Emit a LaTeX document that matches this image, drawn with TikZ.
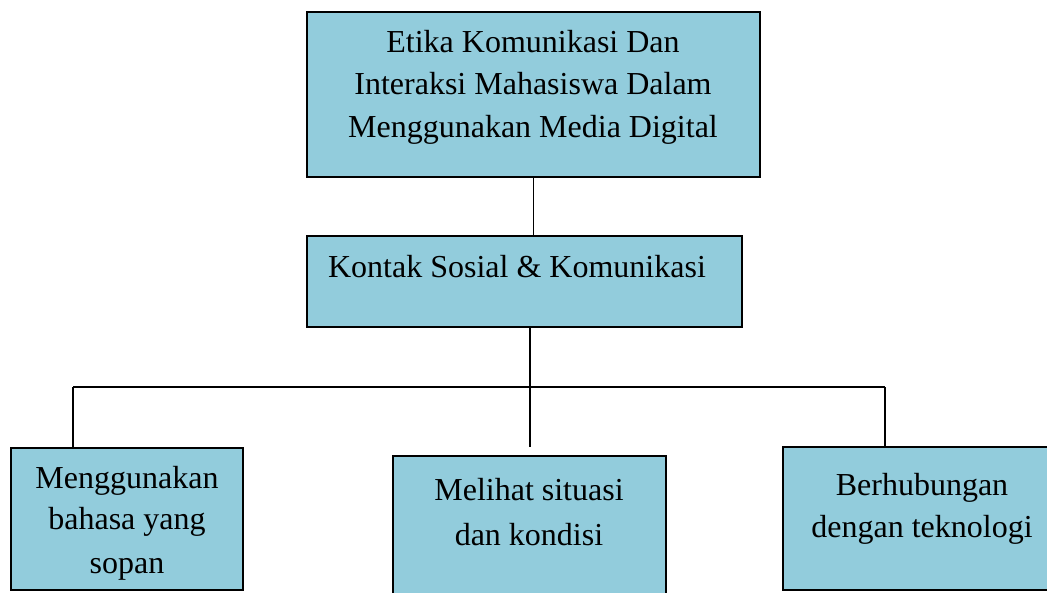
\documentclass[tikz,border=0pt]{standalone}
\usepackage{fontspec}
\setmainfont{Liberation Serif}
\definecolor{boxblue}{RGB}{146,204,220}
\begin{document}
\begin{tikzpicture}[x=1pt,y=-1pt,
  box/.style={draw=black, fill=boxblue, line width=2.2pt, inner sep=0pt, outer sep=0pt},
  conn/.style={draw=black, line width=1.8pt},
  txt/.style={anchor=base, inner sep=0pt, font=\fontsize{32}{38}\selectfont}]
\useasboundingbox (0,0) rectangle (1047,592);
\clip (0,0) rectangle (1047,592);
% boxes
\node[box, minimum width=453pt, minimum height=165pt] (top) at (533.5,94.5) {};
\node[box, minimum width=435pt, minimum height=91pt] (mid) at (524.5,281.5) {};
\node[box, minimum width=232pt, minimum height=142pt] (lb) at (127,519) {};
\node[box, minimum width=273pt, minimum height=144pt] (cb) at (529.5,528) {};
\node[box, minimum width=269pt, minimum height=143pt] (rb) at (917.5,518.5) {};
% texts
\node[txt] (t1) at (533,52) {Etika Komunikasi Dan};
\node[txt] (t2) at (533,94) {Interaksi Mahasiswa Dalam};
\node[txt] (t3) at (533,137) {Menggunakan Media Digital};
\node[txt] (m1) at (517,277) {Kontak Sosial \& Komunikasi};
\node[txt] (l1) at (127,488) {Menggunakan};
\node[txt] (l2) at (127,529) {bahasa yang};
\node[txt] (l3) at (127,573) {sopan};
\node[txt] (c1) at (529,500) {Melihat situasi};
\node[txt] (c2) at (529,545) {dan kondisi};
\node[txt] (r1) at (922,495) {Berhubungan};
\node[txt] (r2) at (922,537) {dengan teknologi};
% connectors
\coordinate (hub) at (530,387);
\coordinate (hl) at (73,387);
\coordinate (hr) at (885,387);
\coordinate (mend) at (530,447);
\draw[conn] (top.south) -- (top.south |- mid.north);
\draw[conn] (mid.south -| hub) -- (mend);
\draw[conn] (hl) -- (hr);
\draw[conn] (hl) -- (hl |- lb.north);
\draw[conn] (hr) -- (hr |- rb.north);
\end{tikzpicture}
\end{document}
